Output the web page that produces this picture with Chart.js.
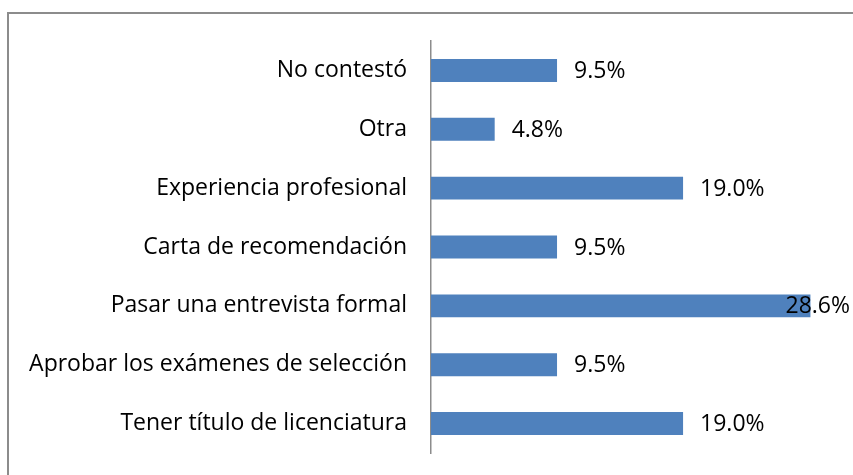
<!DOCTYPE html>
<html>
<head>
<meta charset="utf-8">
<script src="https://cdn.jsdelivr.net/npm/chart.js@4.4.1/dist/chart.umd.min.js"></script>
<style>
  html, body { margin: 0; padding: 0; background: #fff; overflow: hidden; }
  #frame { position: absolute; left: 7px; top: 12px; width: 900px; height: 500px;
           border-left: 2px solid #8c8c8c; border-top: 2px solid #8c8c8c; }
  #wrap { position: absolute; left: 0; top: 0; width: 853px; height: 475px; }
</style>
</head>
<body>
<div id="frame"></div>
<div id="wrap"><canvas id="myChart"></canvas></div>
<script>
const categories = [
  "No contestó",
  "Otra",
  "Experiencia profesional",
  "Carta de recomendación",
  "Pasar una entrevista formal",
  "Aprobar los exámenes de selección",
  "Tener título de licenciatura"
]
const percentages = [9.5, 4.8, 19.0, 9.5, 28.6, 9.5, 19.0]

const fontFamily = "'Open Sans', 'Liberation Sans', sans-serif"

// value labels at the end of each bar, pushed back inside when they'd overflow
const barLabels = {
  id: "barLabels",
  afterDatasetsDraw(chart) {
    const ctx = chart.ctx
    const meta = chart.getDatasetMeta(0)
    ctx.save()
    ctx.font = "23px " + fontFamily
    ctx.fillStyle = "#000"
    ctx.textBaseline = "middle"
    ctx.textAlign = "left"
    meta.data.forEach((bar, i) => {
      const txt = percentages[i].toFixed(1) + "%"
      const w = ctx.measureText(txt).width
      let x = bar.x + 17
      if (x + w > chart.width - 3) x = chart.width - 3 - w
      ctx.fillText(txt, x, bar.y + 1)
    })
    ctx.restore()
  }
}

new Chart(document.getElementById("myChart"), {
  type: "bar",
  data: {
    labels: categories,
    datasets: [{
      data: percentages,
      backgroundColor: "#4f81bd",
      borderWidth: 0,
      categoryPercentage: 1,
      barPercentage: 0.39
    }]
  },
  options: {
    indexAxis: "y",
    responsive: true,
    maintainAspectRatio: false,
    animation: false,
    layout: { padding: { top: 41, bottom: 22, right: 24, left: 0 } },
    plugins: { legend: { display: false }, tooltip: { enabled: false } },
    scales: {
      x: {
        min: 0,
        max: 30,
        display: false
      },
      y: {
        afterFit(scale) {
          scale.width = 431
          scale.paddingTop = 0
          scale.paddingBottom = 0
        },
        grid: { display: false, drawTicks: false },
        border: { display: true, color: "#8c8c8c", width: 1.5 },
        ticks: {
          color: "#000",
          padding: 24,
          font: { family: fontFamily, size: 23 }
        }
      }
    }
  },
  plugins: [barLabels]
})
</script>
</body>
</html>
